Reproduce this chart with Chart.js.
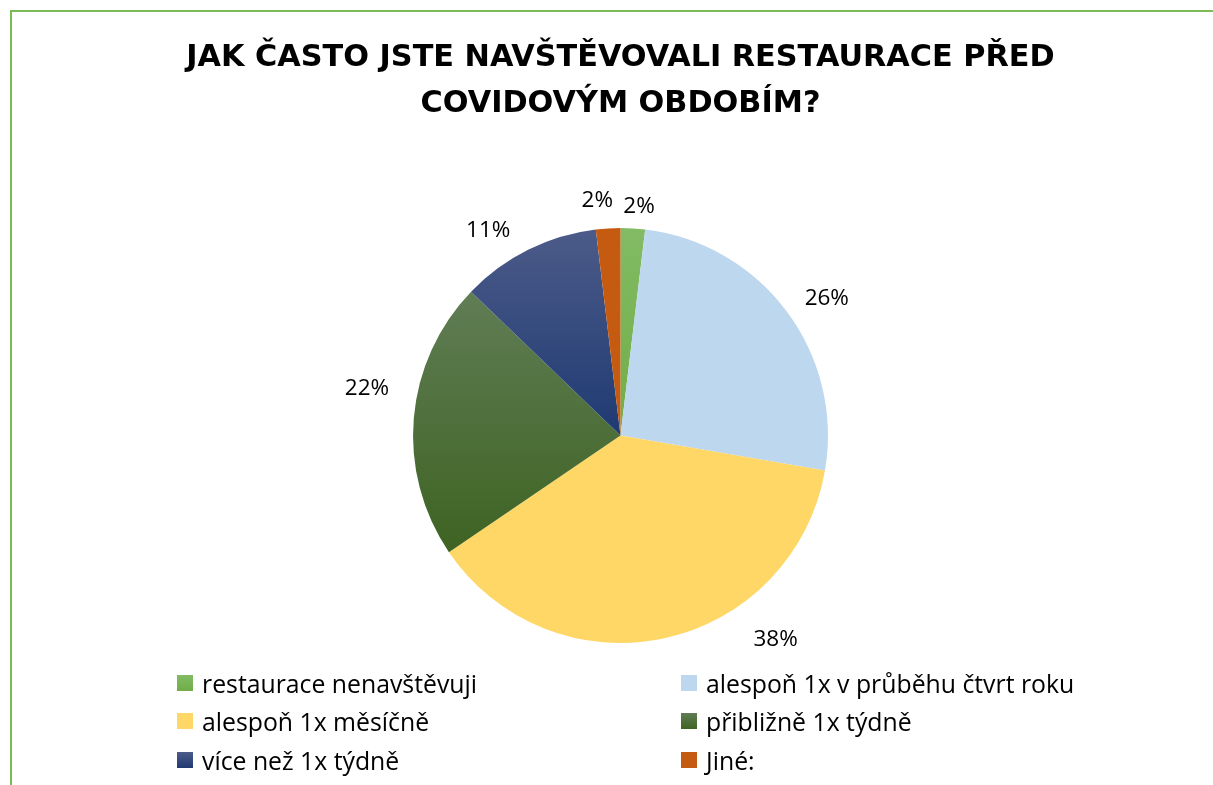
<!DOCTYPE html>
<html>
<head>
<meta charset="utf-8">
<script src="https://cdn.jsdelivr.net/npm/chart.js@4/dist/chart.umd.min.js"></script>
<style>
  html, body { margin: 0; padding: 0; background: #fff; overflow: hidden; }
  #wrap { position: relative; width: 1213px; height: 785px; overflow: hidden; }
  #frame { position: absolute; left: 10px; top: 10px; width: 1300px; height: 900px; border: 2px solid #7cba55; }
  #chart { position: absolute; left: 0; top: 0; }
  #legend {
    position: absolute; left: 177px; top: 664px;
    display: grid; grid-template-columns: 504px 440px; grid-auto-rows: 38.3px;
    font-family: 'Open Sans', sans-serif; font-size: 24.8px; color: #000;
  }
  #legend .item { display: flex; align-items: center; white-space: nowrap; }
  #legend .box { width: 16px; height: 16px; margin-right: 9px; flex: none; }
</style>
</head>
<body>
<div id="wrap">
  <div id="frame"></div>
  <canvas id="chart" width="1213" height="785"></canvas>
  <div id="legend"></div>
</div>
<script>
const titleLines = ['JAK ČASTO JSTE NAVŠTĚVOVALI RESTAURACE PŘED', 'COVIDOVÝM OBDOBÍM?'];
const categories = [
  'restaurace nenavštěvuji',
  'alespoň 1x v průběhu čtvrt roku',
  'alespoň 1x měsíčně',
  'přibližně 1x týdně',
  'více než 1x týdně',
  'Jiné:'
];
const shares = [1.9, 25.8, 37.8, 21.7, 10.9, 1.9];
const colors = ['#70ad47', '#bdd7ee', '#fed766', '#3e6322', '#1f3a72', '#c55a11'];
const gradientTops = ['#82bb64', null, null, '#607d55', '#4c5b89', null];

// Excel-like vertical gradient per slice
const sliceGradients = {
  id: 'sliceGradients',
  beforeDatasetsDraw(chart) {
    const ctx = chart.ctx;
    chart.getDatasetMeta(0).data.forEach((arc, i) => {
      if (!gradientTops[i]) return;
      const p = arc.getProps(['x', 'y', 'startAngle', 'endAngle', 'outerRadius'], true);
      const ys = [p.y, p.y + Math.sin(p.startAngle) * p.outerRadius, p.y + Math.sin(p.endAngle) * p.outerRadius];
      [-Math.PI / 2, Math.PI / 2, 3 * Math.PI / 2].forEach(a => {
        if (a > p.startAngle && a < p.endAngle) ys.push(p.y + Math.sin(a) * p.outerRadius);
      });
      const g = ctx.createLinearGradient(0, Math.min(...ys), 0, Math.max(...ys));
      g.addColorStop(0, gradientTops[i]);
      g.addColorStop(1, colors[i]);
      arc.options.backgroundColor = g;
    });
  }
};

// percentage labels outside the slices
const outsideLabels = {
  id: 'outsideLabels',
  afterDatasetsDraw(chart, args, opts) {
    const ctx = chart.ctx;
    const data = chart.data.datasets[0].data;
    ctx.save();
    ctx.font = opts.font;
    ctx.fillStyle = opts.color;
    ctx.textAlign = 'center';
    ctx.textBaseline = 'middle';
    chart.getDatasetMeta(0).data.forEach((arc, i) => {
      const p = arc.getProps(['x', 'y', 'startAngle', 'endAngle', 'outerRadius'], true);
      const a = (p.startAngle + p.endAngle) / 2 + (opts.angleShift[i] || 0) * Math.PI / 180;
      const text = Math.round(data[i]) + '%';
      const w = ctx.measureText(text).width;
      const ux = Math.cos(a), uy = Math.sin(a);
      const d = p.outerRadius + opts.gap + (opts.extraGap[i] || 0) + Math.abs(ux) * w / 2 + Math.abs(uy) * opts.boxHeight / 2;
      ctx.fillText(text, p.x + ux * d, p.y + uy * d);
    });
    ctx.restore();
  }
};

const chart = new Chart(document.getElementById('chart'), {
  type: 'pie',
  data: {
    labels: categories,
    datasets: [{
      data: shares,
      backgroundColor: colors,
      borderWidth: 0
    }]
  },
  options: {
    responsive: false,
    animation: false,
    events: [],
    layout: { padding: { top: 0, bottom: 142, left: 28, right: 0 } },
    plugins: {
      legend: { display: false },
      tooltip: { enabled: false },
      title: {
        display: true,
        text: titleLines,
        color: '#000',
        font: { family: 'DejaVu Sans', weight: 'bold', size: 30.3, lineHeight: 1.52 },
        padding: { top: 35, bottom: 101 }
      },
      outsideLabels: {
        font: '22.5px "Open Sans"',
        color: '#000',
        boxHeight: 20,
        gap: 16,
        angleShift: [1.2, 3.2, -25.0, 5.6, -6.4, -2.2],
        extraGap: [-5, 0, 11.6, 10.8, 0, 1.6]
      }
    }
  },
  plugins: [sliceGradients, outsideLabels]
});

// two-column legend built from the chart data
const legendEl = document.getElementById('legend');
chart.data.labels.forEach((label, i) => {
  const item = document.createElement('div');
  item.className = 'item';
  const box = document.createElement('span');
  box.className = 'box';
  box.style.background = gradientTops[i]
    ? `linear-gradient(${gradientTops[i]}, ${colors[i]})`
    : colors[i];
  const txt = document.createElement('span');
  txt.textContent = label;
  item.appendChild(box);
  item.appendChild(txt);
  legendEl.appendChild(item);
});
</script>
</body>
</html>
